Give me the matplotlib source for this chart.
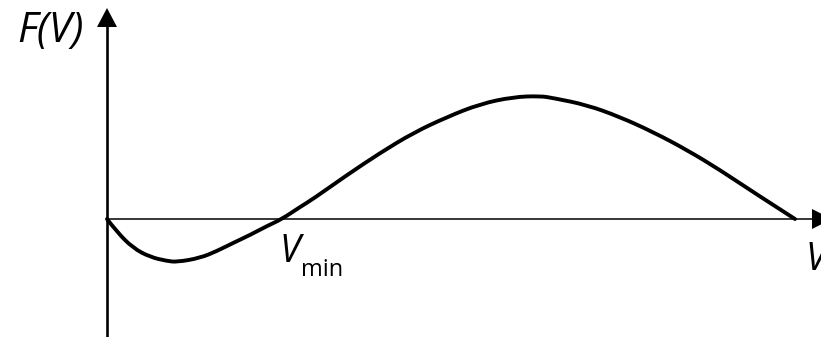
import matplotlib.pyplot as plt
from matplotlib.path import Path
from matplotlib.patches import PathPatch

plt.rcParams['font.family'] = ['Open Sans', 'DejaVu Sans']

# curve F(V), V and F in units of 100 px from the origin
V = [0.00, 0.10, 0.26, 0.43, 0.60, 0.70, 0.93, 1.10, 1.26, 1.43, 1.60,
     1.75, 1.93, 2.06, 2.40, 2.73, 3.06, 3.40, 3.73, 4.06, 4.33, 4.46,
     4.80, 5.13, 5.46, 5.80, 6.13, 6.46, 6.88]
F = [0.00, -0.13, -0.29, -0.38, -0.42, -0.43, -0.39, -0.32, -0.24, -0.16, -0.07,
     0.00, 0.12, 0.20, 0.44, 0.66, 0.86, 1.02, 1.15, 1.22, 1.23, 1.21,
     1.14, 1.02, 0.87, 0.69, 0.49, 0.27, 0.00]

V_MIN = 1.75

fig = plt.figure(figsize=(8.21, 3.37), dpi=100)
ax = fig.add_axes([0, 0, 1, 1])
ax.set_xlim(-1.07, 7.14)
ax.set_ylim(-1.18, 2.19)
ax.axis('off')

# axes lines with filled arrow heads
ax.plot([0, 0], [-1.3, 1.93], color='black', lw=1.9, solid_capstyle='butt')
ax.fill([-0.10, 0.10, 0.0], [1.92, 1.92, 2.11], color='black', lw=0, clip_on=False)
ax.plot([0, 7.06], [0, 0], color='black', lw=1.1, solid_capstyle='butt')
ax.fill([7.05, 7.05, 7.25], [0.10, -0.10, 0.0], color='black', lw=0, clip_on=False)

# smooth the polyline: read points act as quadratic bezier controls
pts = list(zip(V, F))
verts = [pts[0]]
codes = [Path.MOVETO]
for i in range(1, len(pts) - 2):
    mid = ((pts[i][0] + pts[i + 1][0]) / 2, (pts[i][1] + pts[i + 1][1]) / 2)
    verts += [pts[i], mid]
    codes += [Path.CURVE3, Path.CURVE3]
verts += [pts[-2], pts[-1]]
codes += [Path.CURVE3, Path.CURVE3]
ax.add_patch(PathPatch(Path(verts, codes), fill=False, edgecolor='black',
                       lw=2.8, capstyle='round', joinstyle='round'))

# labels
txt = dict(fontweight='normal', ha='left', va='baseline')
ax.text(-0.90, 1.77, 'F(V)', fontsize=30, style='italic', **txt)
ax.text(V_MIN - 0.03, -0.43, 'V', fontsize=27, style='italic', **txt)
ax.text(V_MIN + 0.19, -0.57, 'min', fontsize=17, **txt)
ax.text(6.98, -0.51, 'V', fontsize=27, style='italic', **txt)

fig.savefig('out.png', dpi=100, facecolor='white')
